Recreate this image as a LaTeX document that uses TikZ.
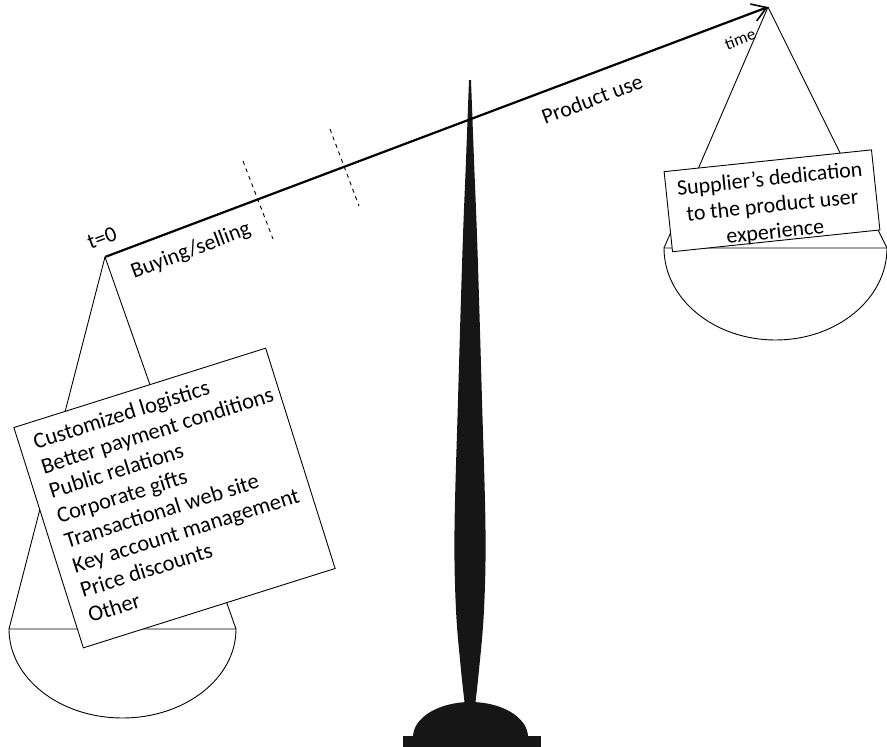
\documentclass[tikz,border=0pt]{standalone}
\usepackage{fontspec}
\setmainfont{Carlito}
\usetikzlibrary{arrows.meta}
\definecolor{ink}{RGB}{22,22,22}
\begin{document}
\begin{tikzpicture}[x=1pt,y=-1pt,
  thread/.style={line width=0.9pt},
  pan/.style={line width=0.9pt, fill=white},
  card/.style={draw, line width=0.9pt, fill=white, inner sep=0pt},
  cardtext/.style={inner xsep=15pt, inner ysep=12pt, font=\fontsize{22.5}{26}\selectfont},
  beam/.style={line width=2.2pt, -{Straight Barb[length=14pt, width=18pt, line width=1.6pt]}},
  marker/.style={line width=0.9pt, dash pattern=on 4pt off 4pt},
  axislabel/.style={rotate=20.7, inner sep=0pt, font=\fontsize{22}{27}\selectfont},
]
\useasboundingbox (0,0) rectangle (887,747);

% time axis end points
\coordinate (t0) at (105,257);
\coordinate (tend) at (768,7);

% left pan
\coordinate (lpL) at (9,629);
\coordinate (lpR) at (236,629);
\draw[thread] (t0) -- (lpL);
\draw[thread] (t0) -- (lpR);
\draw[pan] (lpL) -- (lpR) arc[start angle=0, end angle=180, x radius=113.5, y radius=89] -- cycle;

% right pan
\coordinate (rpL) at (664,248);
\coordinate (rpR) at (887,248);
\draw[thread] (tend) -- (rpL);
\draw[thread] (tend) -- (rpR);
\draw[pan] (rpL) -- (rpR) arc[start angle=0, end angle=180, x radius=111.5, y radius=92] -- cycle;

% pillar of the scale
\fill[ink] plot[smooth, tension=0.6] coordinates {(469,80) (466,160) (462.5,250) (458,400) (454.5,530) (456,610) (461,670) (465,706)}
  -- plot[smooth, tension=0.6] coordinates {(475,706) (479,670) (484,610) (485.5,530) (482,400) (477.5,250) (474,160) (471,80)} -- cycle;
\fill[ink] (413,737) arc[start angle=180, end angle=360, x radius=57.5, y radius=35] -- cycle;
\fill[ink] (403,736) rectangle (541,747);

% phase markers on the time axis
\coordinate (m1a) at (243,161);
\coordinate (m1b) at (273,239);
\coordinate (m2a) at (330,129);
\coordinate (m2b) at (359,206);
\draw[marker] (m1a) -- (m1b);
\draw[marker] (m2a) -- (m2b);

% time axis
\draw[beam] (t0) -- (tend);

% axis labels
\node[axislabel] (lt0) at (102,238) {t=0};
\node[axislabel] (lbuy) at (191,251) {Buying/selling};
\node[axislabel] (luse) at (592,99) {Product use};
\node[axislabel, font=\fontsize{17}{20}\selectfont] (ltime) at (740,39) {time};

% card on the left pan
\node[card, rotate=17.5, minimum width=264pt, minimum height=231pt] (offer) at (174.5,498) {};
\node[cardtext, rotate=17.5, anchor=north west, align=left] (offertext) at (offer.north west)
  {Customized logistics\\Better payment conditions\\Public relations\\Corporate gifts\\Transactional web site\\Key account management\\Price discounts\\Other};

% card on the right pan
\node[card, rotate=6, minimum width=208.5pt, minimum height=80.5pt] (dedication) at (772,200.8) {};
\node[cardtext, rotate=6, anchor=north, align=center, inner xsep=0pt, inner ysep=10pt, font=\fontsize{22}{26.5}\selectfont] (dedtext) at (dedication.north)
  {Supplier’s dedication\\to the product user\\experience};
\end{tikzpicture}
\end{document}
